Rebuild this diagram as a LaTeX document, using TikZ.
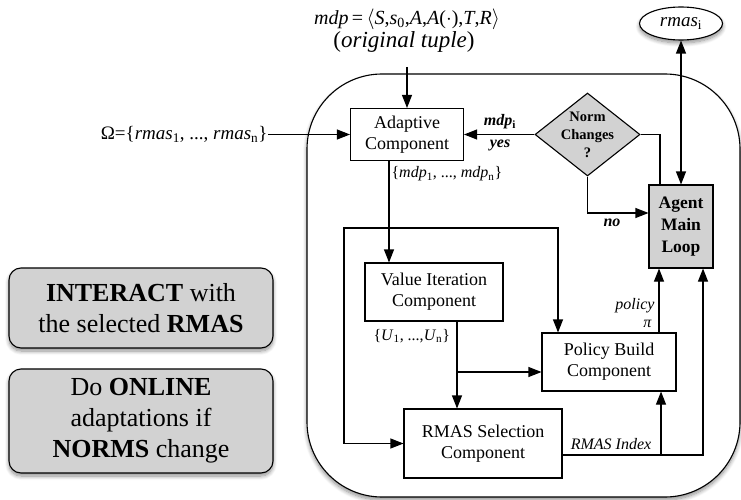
\documentclass[tikz,border=0pt]{standalone}
\usepackage{fontspec}
\setmainfont{Liberation Serif}
\usetikzlibrary{arrows.meta,shapes.geometric,shadows.blur,calc}
\tikzset{
  arr/.style={-{Triangle[length=13pt,width=10pt]}},
  darr/.style={{Triangle[length=13pt,width=10pt]}-{Triangle[length=13pt,width=10pt]}},
  comp/.style={draw, fill=white, align=center, inner sep=0pt, font=\fontsize{18}{21}\selectfont},
  softshadow/.style={blur shadow={shadow xshift=0pt, shadow yshift=-3pt, shadow blur radius=4pt, shadow blur steps=8, shadow opacity=45}},
  lbl/.style={inner sep=0pt, font=\fontsize{16}{19}\selectfont\itshape},
  blbl/.style={inner sep=0pt, font=\fontsize{16}{19}\selectfont\bfseries\itshape},
  note/.style={draw, fill=gray!35, rounded corners=12pt, align=center, inner sep=0pt, font=\fontsize{26}{31}\selectfont, softshadow},
  greybox/.style={draw, fill=gray!35, inner sep=0pt, align=center},
}
\begin{document}
\begin{tikzpicture}[x=1pt,y=-1pt, line width=1.1pt]
\useasboundingbox (0,0) rectangle (741,500);

% the agent frame
\node[draw, fill=white, rounded corners=75pt, minimum width=433pt, minimum height=423pt, softshadow] (frame) at (523.5,285.5) {};

% inputs on top and left
\node[inner sep=0pt, font=\fontsize{20}{23}\selectfont] (mdp) at (407,19)
  {\textit{mdp}\,=\,$\langle$\textit{S},\textit{s}\textsubscript{0},\textit{A},\textit{A}($\cdot$),\textit{T},\textit{R}$\rangle$};
\node[inner sep=0pt, font=\fontsize{23}{26}\selectfont] (tup) at (404,42) {(\textit{original tuple})};
\node[inner sep=0pt, anchor=east, font=\fontsize{19}{22}\selectfont] (om) at (268,134.5)
  {Ω=\{\textit{rmas}\textsubscript{1}, ..., \textit{rmas}\textsubscript{n}\}};

% components
\node[comp, minimum width=113pt, minimum height=52pt] (ad) at (407,134.5) {Adaptive\\Component};
\node[comp, minimum width=138pt, minimum height=58pt] (vi) at (434,292) {Value Iteration\\Component};
\node[comp, minimum width=134pt, minimum height=58pt] (pb) at (609,362) {Policy Build\\Component};
\node[comp, minimum width=158pt, minimum height=69pt] (rs) at (483,443.5) {RMAS Selection\\Component};
\node[greybox, minimum width=64pt, minimum height=83pt, font=\fontsize{17.5}{22}\selectfont\bfseries] (aml) at (681,226.5) {Agent\\Main\\Loop};
\node[greybox, diamond, aspect=1.265, minimum width=105pt, minimum height=83pt] (nc) at (587.5,134.5) {};
\node[align=center, inner sep=0pt, font=\fontsize{14.5}{18}\selectfont\bfseries] (nct) at (nc.center) {Norm\\Changes\\?};
\node[ellipse, draw, fill=white, minimum width=83pt, minimum height=33pt, inner sep=0pt, softshadow, font=\fontsize{19}{22}\selectfont] (rm) at (681,23.5) {\textit{rmas}\textsubscript{i}};

% side notes
\node[note, minimum width=264pt, minimum height=80pt] (n1) at (141,308) {\textbf{INTERACT} with\\the selected \textbf{RMAS}};
\node[note, minimum width=264pt, minimum height=104pt] (n2) at (141,421) {Do \textbf{ONLINE}\\adaptations if\\\textbf{NORMS} change};

% connectors
\coordinate (t0) at (407,67);
\draw[arr] (t0) -- (ad.north);
\draw[arr] (om.east) -- (ad.west);
\draw[darr] (rm.south) -- (aml.north);
\draw[arr] (nc.west) -- (ad.east);
\coordinate (nr) at (660,134.5);
\draw (nc.east) -- (nr) -- (nr |- aml.north);
\coordinate (nb) at (587.5,213);
\draw[arr] (nc.south) -- (nb) -- (nb -| aml.west);

\coordinate (a1) at ($(ad.south)+(-18,0)$);
\draw[arr] (a1) -- (a1 |- vi.north);
\coordinate (j1) at (389,228);
\coordinate (lc) at (344,228);
\coordinate (rc) at (558,228);
\draw[arr] (j1) -- (lc) |- (rs.west);
\draw[arr] (j1) -- (rc) -- (rc |- pb.north);

\coordinate (vb) at (457,321);
\draw[arr] (vb) -- (vb |- rs.north);
\coordinate (j2) at (457,372);
\draw[arr] (j2) -- (j2 -| pb.west);

\coordinate (r1) at (562,455);
\coordinate (rc2) at (703,455);
\coordinate (j3) at (661,455);
\draw[arr] (r1) -- (rc2) -- (rc2 |- aml.south);
\draw[arr] (j3) -- (j3 |- pb.south);
\coordinate (p1) at (659,333);
\draw[arr] (p1) -- (p1 |- aml.south);

% connector labels
\node[blbl] (lmdpi) at (500,122) {mdp\textsubscript{\upshape i}};
\node[blbl] (lyes) at (500,145) {yes};
\node[blbl] (lno) at (612,223) {no};
\node[lbl, anchor=west, font=\fontsize{16}{19}\selectfont] (lmdps) at (391,174)
  {\{\textit{mdp}\textsubscript{1}, ..., \textit{mdp}\textsubscript{n}\}};
\node[lbl, anchor=west, font=\fontsize{16}{19}\selectfont] (lus) at (373,336)
  {\{\textit{U}\textsubscript{1}, ...,\textit{U}\textsubscript{n}\}};
\node[lbl, anchor=east] (lpol) at (655,306) {policy};
\node[lbl, anchor=east] (lpi) at (652,324) {π};
\node[lbl] (lidx) at (611,444) {RMAS Index};
\end{tikzpicture}
\end{document}
